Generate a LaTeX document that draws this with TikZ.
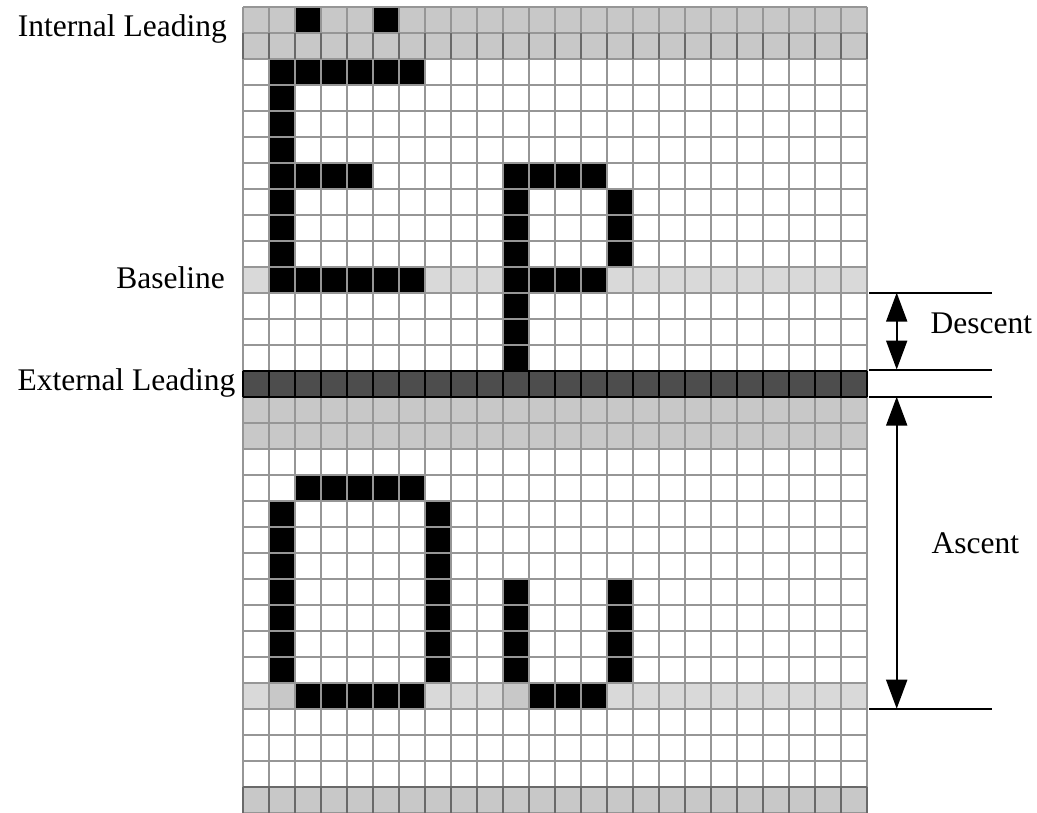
\documentclass[tikz,border=0pt]{standalone}
\usepackage{fontspec}
\setmainfont{Liberation Serif}
\usetikzlibrary{arrows.meta}
\definecolor{gridgray}{RGB}{150,150,150}
\definecolor{darkgrid}{RGB}{105,105,105}
\definecolor{ileadfill}{RGB}{200,200,200}
\definecolor{basefill}{RGB}{217,217,217}
\definecolor{eleadfill}{RGB}{77,77,77}
\tikzset{
  gridline/.style={draw=gridgray, line width=2pt},
  darkline/.style={draw=darkgrid, line width=2pt},
  pixel/.style={fill=black},
  lbl/.style={font=\fontsize{31.5}{36}\selectfont, inner sep=0pt},
  refline/.style={draw=black, line width=2pt},
  dimarrow/.style={draw=black, line width=2pt, {Triangle[length=29pt,width=21pt]}-{Triangle[length=29pt,width=21pt]}}
}
\begin{document}
\begin{tikzpicture}[x=1pt, y=-1pt]
\useasboundingbox (0,0) rectangle (1037,812);
\clip (0,0) rectangle (1037,812);
\fill[white] (0,0) rectangle (1037,812);
\begin{scope}[shift={(243.3pt,-6.7pt)}, x=26pt, y=-26pt]
  % row fills
  \fill[ileadfill] (0,0) rectangle (24,2);
  \fill[ileadfill] (0,15) rectangle (24,17);
  \fill[ileadfill] (0,30) rectangle (24,31);
  \fill[basefill] (0,10) rectangle (24,11);
  \fill[basefill] (0,26) rectangle (24,27);
  \fill[ileadfill] (1,26) rectangle (2,27);
  \fill[ileadfill] (10,26) rectangle (11,27);
  \fill[eleadfill] (0,14) rectangle (24,15);
  % black pixels
  \foreach \c/\r in {2/0,5/0,
     1/2,2/2,3/2,4/2,5/2,6/2, 1/3,1/4,1/5, 1/6,2/6,3/6,4/6, 1/7,1/8,1/9,
     1/10,2/10,3/10,4/10,5/10,6/10,
     10/6,11/6,12/6,13/6, 10/7,10/8,10/9, 14/7,14/8,14/9,
     10/10,11/10,12/10,13/10, 10/11,10/12,10/13,
     2/18,3/18,4/18,5/18,6/18,
     1/19,1/20,1/21,1/22,1/23,1/24,1/25,
     7/19,7/20,7/21,7/22,7/23,7/24,7/25,
     2/26,3/26,4/26,5/26,6/26,
     10/22,10/23,10/24,10/25, 14/22,14/23,14/24,14/25,
     11/26,12/26,13/26}
    \fill[pixel] (\c,\r) rectangle ++(1,1);
  % grid
  \foreach \c in {0,...,24} \draw[gridline] (\c,0) -- (\c,31);
  \foreach \r in {0,...,31} \draw[gridline] (0,\r) -- (24,\r);
  \foreach \c in {0,...,24} {
    \draw[darkline] (\c,1) -- (\c,2);
    \draw[darkline] (\c,30) -- (\c,31);
  }
  \draw[darkline] (0,30) -- (24,30);
  \foreach \c in {0,...,24} \draw[black, line width=2pt] (\c,14) -- (\c,15);
  \draw[black, line width=2pt] (0,14) -- (24,14);
  \draw[black, line width=2pt] (0,15) -- (24,15);
\end{scope}
% labels
\node[lbl, anchor=base east] (ilead) at (227,36.5) {Internal Leading};
\node[lbl, anchor=base east] (base) at (225,288.3) {Baseline};
\node[lbl, anchor=base east] (elead) at (235.5,390) {External Leading};
\node[lbl, anchor=base west] (desc) at (930.5,333.3) {Descent};
\node[lbl, anchor=base west] (asc) at (931.5,553.3) {Ascent};
% reference lines
\coordinate (l1a) at (869,292.7); \coordinate (l1b) at (992,292.7);
\coordinate (l2a) at (869,370.2); \coordinate (l2b) at (992,370.2);
\coordinate (l3a) at (869,396.7); \coordinate (l3b) at (992,396.7);
\coordinate (l4a) at (869,708.7); \coordinate (l4b) at (992,708.7);
\draw[refline] (l1a) -- (l1b);
\draw[refline] (l2a) -- (l2b);
\draw[refline] (l3a) -- (l3b);
\draw[refline] (l4a) -- (l4b);
% dimension arrows
\coordinate (dtop) at (896.7,292.7); \coordinate (dbot) at (896.7,369.5);
\coordinate (atop) at (896.7,396.7); \coordinate (abot) at (896.7,708.7);
\draw[dimarrow] (dtop) -- (dbot);
\draw[dimarrow] (atop) -- (abot);
\end{tikzpicture}
\end{document}
